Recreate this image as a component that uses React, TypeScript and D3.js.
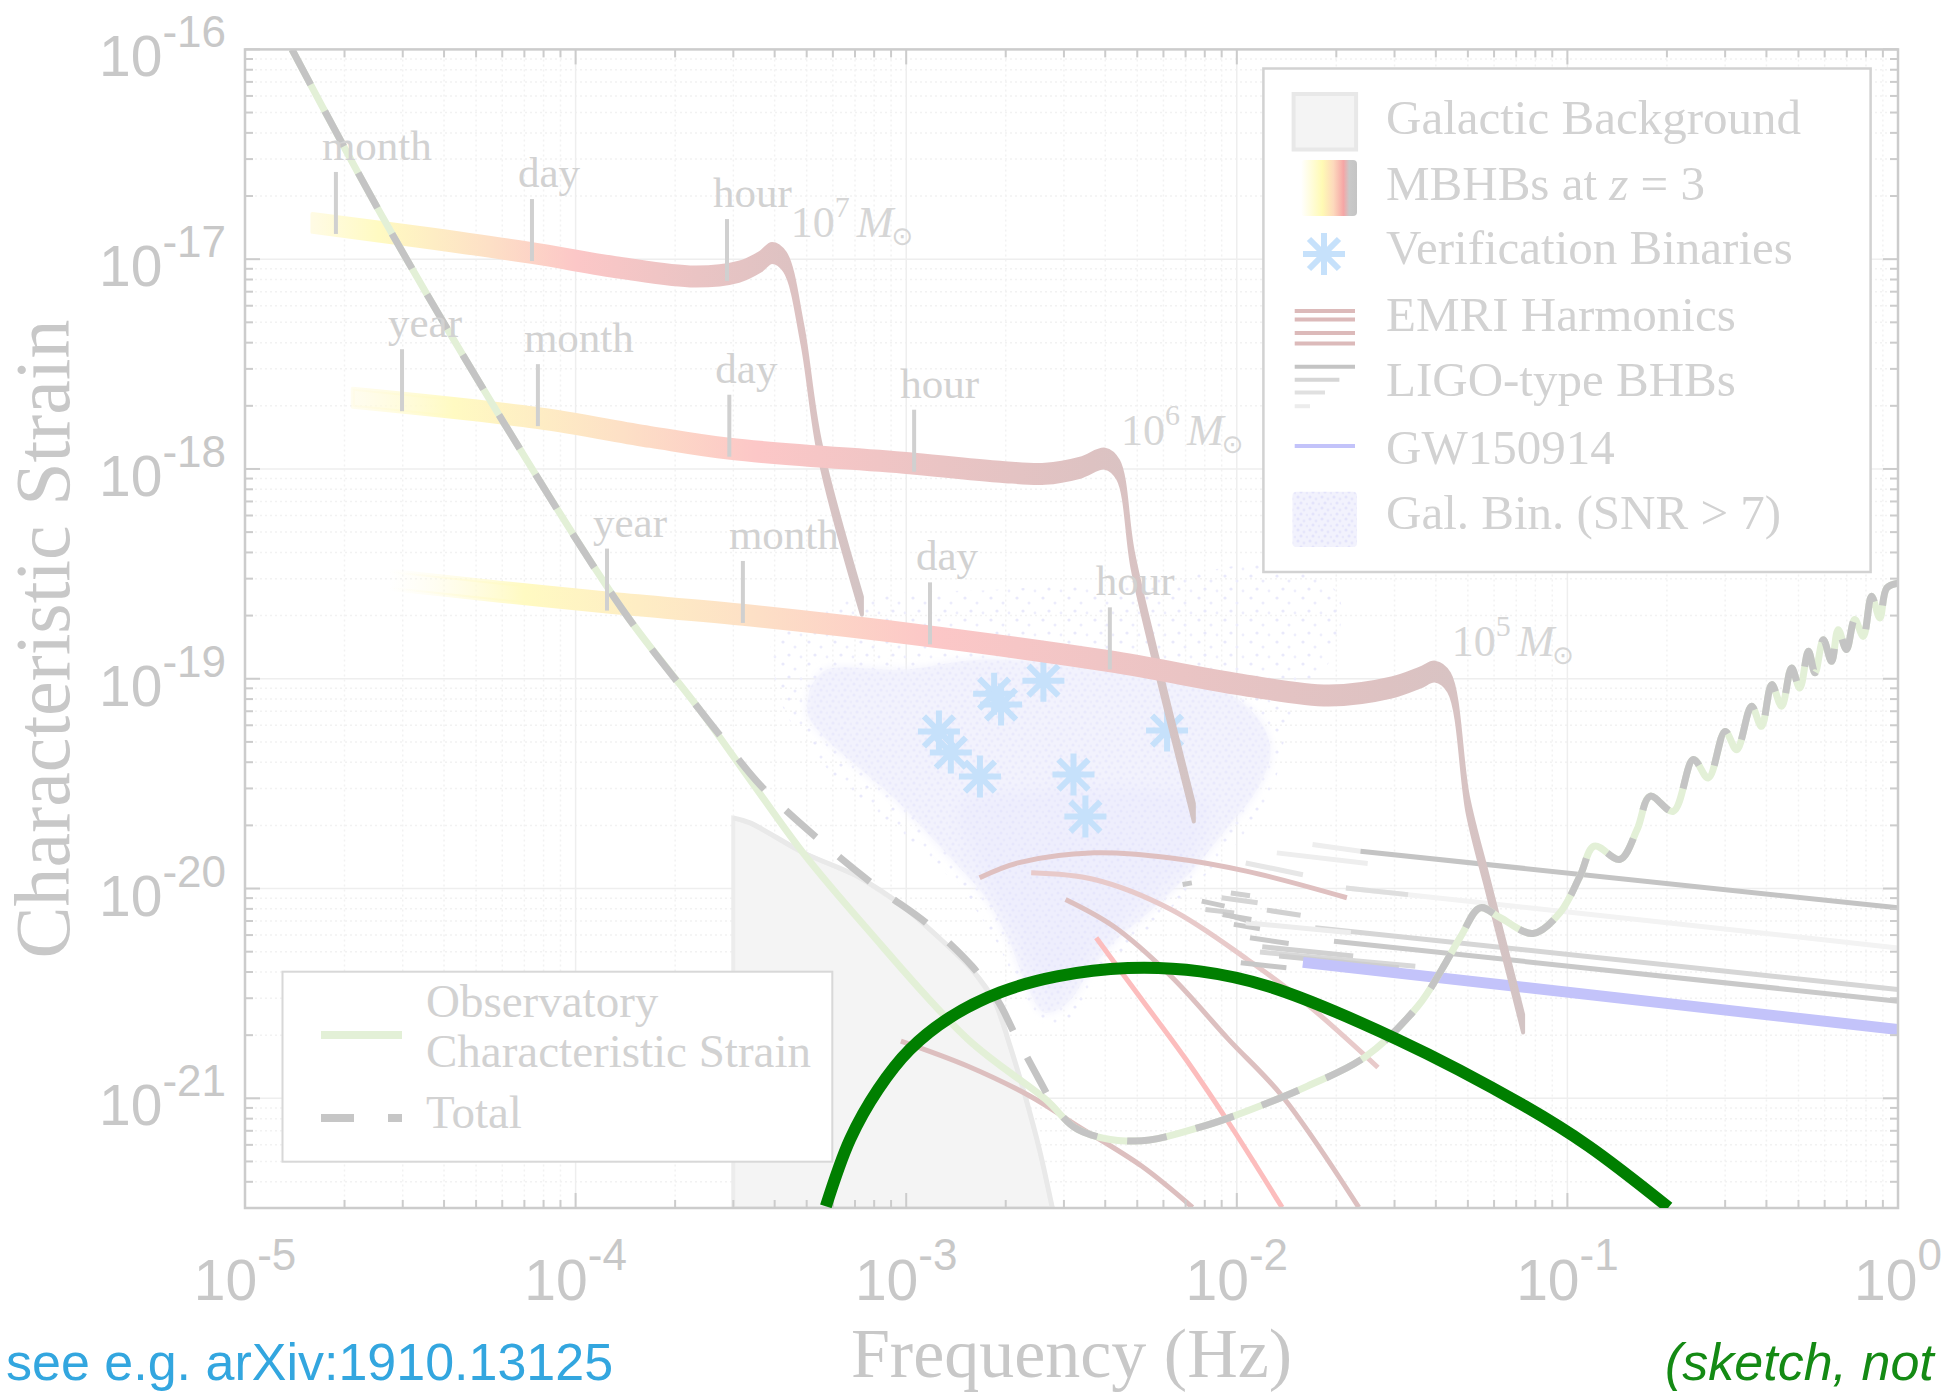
import React from "react";
import * as d3 from "d3";

// Every point is stored as [log10 frequency (Hz), log10 characteristic strain].
type Pt = [number, number];

const FREQ_DECADES = [-5, -4, -3, -2, -1, 0];
const STRAIN_DECADES = [-16, -17, -18, -19, -20, -21];
const F_DOMAIN: [number, number] = [1e-5, 1];
const H_DOMAIN: [number, number] = [3e-22, 1e-16];

// Observatory characteristic strain (sensitivity curve)
const observatorySensitivity: Pt[] = [
  [-4.858, -16.0], [-4.58, -16.81], [-4.217, -17.78], [-3.851, -18.686], [-3.624, -19.149],
  [-3.4725, -19.481], [-3.313, -19.828], [-3.125, -20.18], [-2.813, -20.719], [-2.578, -21.005],
  [-2.481, -21.148], [-2.308, -21.204], [-2.095, -21.13], [-1.903, -21.02], [-1.786, -20.942],
  [-1.612, -20.803], [-1.452, -20.56], [-1.38, -20.386], [-1.322, -20.227], [-1.264, -20.092],
  [-1.204, -20.138], [-1.104, -20.214], [-1.022, -20.114], [-0.962, -19.941], [-0.919, -19.798],
  [-0.841, -19.861], [-0.789, -19.718], [-0.75, -19.56], [-0.68, -19.632], [-0.619, -19.385],
  [-0.574, -19.473], [-0.523, -19.251], [-0.488, -19.338], [-0.443, -19.131], [-0.413, -19.227],
  [-0.382, -19.028], [-0.352, -19.131], [-0.322, -18.949], [-0.297, -19.044], [-0.271, -18.869],
  [-0.251, -18.972], [-0.226, -18.814], [-0.201, -18.917], [-0.181, -18.766], [-0.156, -18.861],
  [-0.131, -18.718], [-0.105, -18.798], [-0.08, -18.607], [-0.055, -18.71], [-0.034, -18.567],
  [0.0, -18.544],
];

// Where the total (instrument + galactic foreground) departs from the instrument curve
const totalForegroundBump: Pt[] = [
  [-3.57, -19.257], [-3.438, -19.513], [-3.241, -19.798], [-3.079, -20.005], [-2.94, -20.163],
  [-2.801, -20.37], [-2.72, -20.543], [-2.674, -20.686], [-2.598, -20.91], [-2.55, -21.04],
];

// Upper edge of the galactic confusion background
const galacticBackground: Pt[] = [
  [-3.523, -19.663], [-3.4725, -19.687], [-3.31, -19.83], [-3.149, -19.941], [-3.01, -20.084],
  [-2.895, -20.243], [-2.801, -20.386], [-2.731, -20.543], [-2.686, -20.75], [-2.64, -20.99],
  [-2.597, -21.244], [-2.558, -21.523],
];

// Massive black hole binary tracks at z = 3
const mbhb1e7: Pt[] = [
  [-4.796, -16.827], [-4.471, -16.894], [-4.135, -16.97], [-3.866, -17.041], [-3.64, -17.083],
  [-3.506, -17.06], [-3.442, -17.013], [-3.406, -16.97], [-3.367, -17.013], [-3.315, -17.351],
  [-3.261, -17.909], [-3.134, -18.652],
];
const mbhb1e6: Pt[] = [
  [-4.674, -17.661], [-4.121, -17.756], [-3.775, -17.847], [-3.533, -17.904], [-2.975, -17.975],
  [-2.716, -18.013], [-2.58, -18.023], [-2.474, -17.994], [-2.399, -17.951], [-2.359, -18.004],
  [-2.315, -18.433], [-2.245, -18.909], [-2.13, -19.638],
];
const mbhb1e5: Pt[] = [
  [-4.567, -18.528], [-4.229, -18.585], [-3.905, -18.637], [-3.472, -18.699], [-2.928, -18.798],
  [-2.384, -18.917], [-1.968, -19.033], [-1.721, -19.08], [-1.532, -19.042], [-1.446, -18.995],
  [-1.401, -18.966], [-1.358, -19.018], [-1.301, -19.604], [-1.243, -19.97], [-1.184, -20.333],
  [-1.134, -20.643],
];
const mbhbTracks = [mbhb1e7, mbhb1e6, mbhb1e5];
const mbhbMassExponents = ["7", "6", "5"];
const mbhbMassLabelAt: Pt[] = [[-3.349, -16.892], [-2.35, -17.885], [-1.35, -18.893]];

// Time-to-merger marks along each track: [label, log10 f]
const mbhbTimeMarks: [string, number][][] = [
  [["month", -4.725], ["day", -4.132], ["hour", -3.542]],
  [["year", -4.525], ["month", -4.114], ["day", -3.535], ["hour", -2.976]],
  [["year", -3.905], ["month", -3.494], ["day", -2.928], ["hour", -2.384]],
];

const verificationBinaries: Pt[] = [
  [-2.901, -19.251], [-2.865, -19.352], [-2.734, -19.071], [-2.713, -19.123], [-2.585, -19.009],
  [-2.777, -19.466], [-2.494, -19.457], [-2.458, -19.657], [-2.211, -19.247],
];

const emriHarmonics: Pt[][] = [
  [[-2.778, -19.949], [-2.662, -19.878], [-2.431, -19.83], [-2.199, -19.854], [-1.968, -19.918], [-1.667, -20.044]],
  [[-2.622, -19.925], [-2.431, -19.957], [-2.199, -20.1], [-1.968, -20.338], [-1.794, -20.543], [-1.573, -20.853]],
  [[-2.518, -20.052], [-2.373, -20.18], [-2.199, -20.418], [-2.025, -20.719], [-1.863, -20.989], [-1.631, -21.52]],
  [[-2.4253, -20.235], [-2.288, -20.528], [-2.154, -20.814], [-2.018, -21.132], [-1.863, -21.52]],
  [[-3.016, -20.727], [-2.813, -20.847], [-2.626, -20.989], [-2.481, -21.132], [-2.288, -21.323], [-2.134, -21.52]],
];
const emriColors = ["#dfc0c0", "#e8caca", "#ddc0c0", "#fcbdbd", "#ddbfbf"];

// LIGO-type binaries: start and end of each visible segment
const ligoSegments: [Pt, Pt][] = [
  [[-1.771, -19.79], [-1.626, -19.822]],
  [[-1.626, -19.822], [0, -20.092]],
  [[-1.67, -19.997], [0, -20.283]],
  [[-1.67, -19.997], [-1.482, -20.029]],
  [[-1.763, -20.187], [0, -20.481]],
  [[-1.706, -20.251], [0, -20.537]],
  [[-1.879, -19.83], [-1.604, -19.881]],
  [[-1.973, -19.878], [-1.8, -19.934]],
  [[-2.018, -20.021], [-1.96, -20.034]],
  [[-2.046, -20.044], [-1.937, -20.068]],
  [[-1.909, -20.103], [-1.807, -20.127]],
  [[-2.031, -20.124], [-1.96, -20.156]],
  [[-2.009, -20.171], [-1.93, -20.192]],
  [[-1.973, -20.163], [-1.655, -20.211]],
  [[-1.96, -20.235], [-1.843, -20.262]],
  [[-1.923, -20.278], [-1.648, -20.322]],
  [[-1.93, -20.303], [-1.46, -20.37]],
  [[-1.872, -20.322], [-1.51, -20.378]],
  [[-1.988, -20.354], [-1.85, -20.378]],
  [[-2.164, -19.981], [-2.136, -19.973]],
  [[-2.106, -20.06], [-2.037, -20.084]],
  [[-2.095, -20.1], [-2.008, -20.116]],
  [[-2.043, -20.124], [-1.956, -20.148]],
];
const ligoTone = [0.1, 0.95, 0.0, 0.4, 0.6, 0.85, 0.1, 0.25, 0.7, 0.6, 0.7, 0.9, 0.85, 0.12, 0.85, 0.7, 0.55, 0.75, 0.9, 0.85, 0.85, 0.7, 0.85];

const gw150914: Pt[] = [[-1.8, -20.352], [0, -20.672]];

// Resolvable galactic binaries (SNR > 7): sparse halo, dense cloud, core
const galBinHalo: Pt[] = [
  [-3.412, -18.813], [-3.17, -18.622], [-2.716, -18.575], [-2.263, -18.527], [-1.809, -18.456],
  [-1.688, -18.622], [-1.718, -18.908], [-1.839, -19.194], [-1.884, -19.48], [-1.99, -19.766],
  [-2.142, -20.004], [-2.293, -20.243], [-2.414, -20.433], [-2.489, -20.6], [-2.58, -20.648],
  [-2.656, -20.481], [-2.731, -20.243], [-2.837, -20.004], [-2.958, -19.814], [-3.14, -19.576],
  [-3.291, -19.338], [-3.382, -19.099],
];
const galBinCloud: Pt[] = [
  [-3.288, -19.036], [-3.241, -18.957], [-3.01, -18.957], [-2.778, -18.909], [-2.431, -18.941],
  [-2.084, -19.02], [-1.933, -19.195], [-1.898, -19.353], [-1.945, -19.544], [-2.025, -19.703],
  [-2.142, -19.925], [-2.257, -20.1], [-2.374, -20.259], [-2.455, -20.418], [-2.512, -20.545],
  [-2.581, -20.592], [-2.639, -20.449], [-2.686, -20.259], [-2.755, -20.052], [-2.824, -19.925],
  [-2.917, -19.767], [-3.032, -19.576], [-3.148, -19.417], [-3.241, -19.29], [-3.299, -19.163],
];
const galBinCore: Pt[] = [
  [-2.847, -19.671], [-2.824, -19.576], [-2.662, -19.544], [-2.431, -19.513], [-2.199, -19.544],
  [-2.084, -19.608], [-2.142, -19.862], [-2.257, -20.021], [-2.396, -20.227], [-2.477, -20.386],
  [-2.558, -20.497], [-2.617, -20.386], [-2.662, -20.227], [-2.731, -20.052], [-2.801, -19.83],
];

// Hand-drawn source sketch
const sketchCurve: Pt[] = [
  [-3.243, -21.515], [-3.17, -21.196], [-3.085, -20.957], [-2.989, -20.767], [-2.867, -20.614],
  [-2.716, -20.495], [-2.544, -20.419], [-2.329, -20.379], [-2.111, -20.395], [-1.903, -20.467],
  [-1.515, -20.719], [-1.129, -21.037], [-0.936, -21.228], [-0.694, -21.52],
];

const TRACK_STOPS: [number, string][] = [
  [0, "#fffbe4"], [0.12, "#fffac2"], [0.32, "#fde0c6"], [0.48, "#fcc7c7"],
  [0.7, "#eac4c4"], [0.88, "#ddc2c2"], [1, "#d3c4c4"],
];
const TRACK_START_OPACITY = [1, 0.6, 0];

const SERIF = "'Liberation Serif', 'Times New Roman', serif";
const SANS = "'Liberation Sans', Arial, Helvetica, sans-serif";
const AXIS_GREY = "#c8c8c8";
const NOTE_GREY = "#d2d2d2";

const LEFT = 245, RIGHT = 1898, TOP = 49.4, BOTTOM = 1208;

export default function App() {
  const x = d3.scaleLog().domain(F_DOMAIN).range([LEFT, RIGHT]);
  const y = d3.scaleLog().domain(H_DOMAIN).range([BOTTOM, TOP]);
  const fx = (lf: number) => x(Math.pow(10, lf));
  const fy = (lh: number) => y(Math.pow(10, lh));

  const smooth = d3.curveCatmullRom.alpha(0.5);
  const line = d3.line<Pt>().x((d) => fx(d[0])).y((d) => fy(d[1])).curve(smooth);
  const straight = d3.line<Pt>().x((d) => fx(d[0])).y((d) => fy(d[1]));
  const band = d3
    .area<Pt>()
    .x((d) => fx(d[0]))
    .y0((d) => fy(d[1]) + 9)
    .y1((d) => fy(d[1]) - 9)
    .curve(smooth);
  const polygon = (pts: Pt[]) => (line(pts.concat([pts[0]])) as string) + "Z";

  const logMin = Math.log10(H_DOMAIN[0]);
  const bgPath =
    straight(
      ([[galacticBackground[0][0], logMin]] as Pt[])
        .concat(galacticBackground)
        .concat([[galacticBackground[galacticBackground.length - 1][0], logMin]])
    ) + "Z";
  const bgEdge = line(galacticBackground) as string;

  const total: Pt[] = observatorySensitivity
    .filter((d) => d[0] <= -3.62)
    .concat(totalForegroundBump)
    .concat(observatorySensitivity.filter((d) => d[0] >= -2.49));

  // grid values
  const xMinor: number[] = [];
  for (let e = -5; e < 0; e++) for (let m = 2; m <= 9; m++) xMinor.push(m * Math.pow(10, e));
  const yMinor: number[] = [];
  for (let e = -22; e < -16; e++)
    for (let m = 2; m <= 9; m++) {
      const v = m * Math.pow(10, e);
      if (v >= H_DOMAIN[0] && v < H_DOMAIN[1]) yMinor.push(v);
    }
  const xMajor = FREQ_DECADES.map((e) => Math.pow(10, e));
  const yMajor = STRAIN_DECADES.map((e) => Math.pow(10, e));

  const asterisk = "M0,-21V21M-21,0H21M-15,-15L15,15M-15,15L15,-15";
  const ligoColor = d3.interpolateRgb("#f3f3f3", "#c2c2c2");

  const trackInterp = mbhbTracks.map((t) =>
    d3.scaleLinear().domain(t.map((d) => d[0])).range(t.map((d) => d[1]))
  );

  return (
    <svg
      width={1951}
      height={1392}
      viewBox="0 0 1951 1392"
      style={{ position: "absolute", left: 0, top: 0, display: "block", background: "#fff" }}
    >
      <defs>
        <clipPath id="plotArea">
          <rect x={LEFT} y={TOP} width={RIGHT - LEFT} height={BOTTOM - TOP} />
        </clipPath>
        <filter id="softEdge" x="-10%" y="-10%" width="120%" height="120%">
          <feGaussianBlur stdDeviation={5} />
        </filter>
        <pattern id="dotsSparse" width={26} height={22} patternUnits="userSpaceOnUse">
          <circle cx={3} cy={4} r={1.6} fill="#e9e9fb" />
          <circle cx={15} cy={9} r={1.5} fill="#ececfc" />
          <circle cx={9} cy={17} r={1.6} fill="#e9e9fb" />
          <circle cx={21} cy={19} r={1.4} fill="#eeeefc" />
        </pattern>
        <pattern id="dotsDense" width={12} height={11} patternUnits="userSpaceOnUse">
          <rect width={12} height={11} fill="#f2f2fd" />
          <circle cx={2} cy={2} r={1.5} fill="#e3e3fb" />
          <circle cx={8} cy={4} r={1.4} fill="#e6e6fb" />
          <circle cx={5} cy={8} r={1.5} fill="#e3e3fb" />
          <circle cx={11} cy={9} r={1.3} fill="#e8e8fb" />
        </pattern>
        {mbhbTracks.map((t, i) => (
          <linearGradient
            key={i}
            id={`mbhb${i}`}
            gradientUnits="userSpaceOnUse"
            x1={fx(t[0][0])}
            x2={fx(t[t.length - 1][0])}
            y1={0}
            y2={0}
          >
            {TRACK_STOPS.map(([o, c], j) => (
              <stop
                key={j}
                offset={o}
                stopColor={c}
                stopOpacity={j === 0 ? TRACK_START_OPACITY[i] : 1}
              />
            ))}
          </linearGradient>
        ))}
        <linearGradient id="mbhbKey" x1="0" x2="1" y1="0" y2="0">
          <stop offset="0" stopColor="#ffffff" />
          <stop offset="0.38" stopColor="#fffab4" />
          <stop offset="0.58" stopColor="#fdd9bc" />
          <stop offset="0.76" stopColor="#f5a6a6" />
          <stop offset="0.86" stopColor="#c9c9c9" />
          <stop offset="1" stopColor="#c4c4c4" />
        </linearGradient>
      </defs>

      {/* grid */}
      <g>
        {xMinor.map((v, i) => (
          <line key={`gx${i}`} x1={x(v)} x2={x(v)} y1={TOP} y2={BOTTOM} stroke="#f2f2f2" strokeWidth={1.5} strokeDasharray="2 3" />
        ))}
        {yMinor.map((v, i) => (
          <line key={`gy${i}`} x1={LEFT} x2={RIGHT} y1={y(v)} y2={y(v)} stroke="#f2f2f2" strokeWidth={1.5} strokeDasharray="2 3" />
        ))}
        {xMajor.map((v, i) => (
          <line key={`Gx${i}`} x1={x(v)} x2={x(v)} y1={TOP} y2={BOTTOM} stroke="#eeeeee" strokeWidth={1.5} />
        ))}
        {yMajor.map((v, i) => (
          <line key={`Gy${i}`} x1={LEFT} x2={RIGHT} y1={y(v)} y2={y(v)} stroke="#eeeeee" strokeWidth={1.5} />
        ))}
      </g>

      <g clipPath="url(#plotArea)">
        {/* galactic background */}
        <path d={bgPath} fill="#f4f4f4" stroke="#ececec" strokeWidth={4} />
        <path d={bgEdge} fill="none" stroke="#e9e9e9" strokeWidth={5} />

        {/* resolvable galactic binaries */}
        <path d={polygon(galBinHalo)} fill="url(#dotsSparse)" />
        <g filter="url(#softEdge)">
          <path d={polygon(galBinCloud)} fill="#f1f1fd" />
          <path d={polygon(galBinCore)} fill="#eaeafd" />
        </g>
        <path d={polygon(galBinCloud)} fill="url(#dotsDense)" opacity={0.55} />

        {/* verification binaries */}
        {verificationBinaries.map((d, i) => (
          <path
            key={`vb${i}`}
            d={asterisk}
            transform={`translate(${fx(d[0])},${fy(d[1])})`}
            stroke="#c6e1fb"
            strokeWidth={6}
            fill="none"
          />
        ))}

        {/* EMRI harmonics */}
        {emriHarmonics.map((h, i) => (
          <path key={`em${i}`} d={line(h) as string} fill="none" stroke={emriColors[i]} strokeWidth={5} />
        ))}

        {/* LIGO-type binaries */}
        {ligoSegments.map((s, i) => (
          <path key={`lg${i}`} d={straight(s) as string} stroke={ligoColor(ligoTone[i])} strokeWidth={5} fill="none" />
        ))}

        {/* GW150914 */}
        <path d={straight(gw150914) as string} stroke="#c3c3fa" strokeWidth={11} fill="none" />

        {/* MBHB tracks */}
        {mbhbTracks.map((t, i) => (
          <path
            key={`tr${i}`}
            d={band(t) as string}
            fill={`url(#mbhb${i})`}
            stroke={`url(#mbhb${i})`}
            strokeWidth={4}
            strokeLinejoin="round"
          />
        ))}

        {/* sensitivity and total */}
        <path d={line(observatorySensitivity) as string} fill="none" stroke="#e3f0d7" strokeWidth={7} />
        <path d={line(total) as string} fill="none" stroke="#c4c4c4" strokeWidth={7} strokeDasharray="40 30" />
      </g>

      {/* time-to-merger marks */}
      {mbhbTimeMarks.map((marks, i) =>
        marks.map(([label, lf], j) => {
          const cx = fx(lf);
          const cy = fy(trackInterp[i](lf));
          return (
            <g key={`tm${i}-${j}`}>
              <line x1={cx} x2={cx} y1={cy + 8} y2={cy - 54} stroke="#d0d0d0" strokeWidth={4} />
              <text x={cx - 14} y={cy - 66} fontFamily={SERIF} fontSize={43} fill={NOTE_GREY}>
                {label}
              </text>
            </g>
          );
        })
      )}

      {/* mass labels */}
      {mbhbMassLabelAt.map((d, i) => (
        <text key={`ml${i}`} x={fx(d[0])} y={fy(d[1])} fontFamily={SERIF} fontSize={44} fill="#d6d6d6">
          10
          <tspan dy={-20} fontSize={30}>{mbhbMassExponents[i]}</tspan>
          <tspan dy={20} dx={7} fontStyle="italic">M</tspan>
          <tspan dy={8} dx={-2} fontSize={26} fontFamily="'DejaVu Sans', sans-serif">⊙</tspan>
        </text>
      ))}

      {/* frame and ticks */}
      <g stroke="#cccccc" strokeWidth={2}>
        {xMajor.map((v, i) => (
          <g key={`tx${i}`}>
            <line x1={x(v)} x2={x(v)} y1={BOTTOM} y2={BOTTOM - 15} />
            <line x1={x(v)} x2={x(v)} y1={TOP} y2={TOP + 15} />
          </g>
        ))}
        {xMinor.map((v, i) => (
          <g key={`tmx${i}`}>
            <line x1={x(v)} x2={x(v)} y1={BOTTOM} y2={BOTTOM - 8} />
            <line x1={x(v)} x2={x(v)} y1={TOP} y2={TOP + 8} />
          </g>
        ))}
        {yMajor.map((v, i) => (
          <g key={`ty${i}`}>
            <line x1={LEFT} x2={LEFT + 15} y1={y(v)} y2={y(v)} />
            <line x1={RIGHT} x2={RIGHT - 15} y1={y(v)} y2={y(v)} />
          </g>
        ))}
        {yMinor.map((v, i) => (
          <g key={`tmy${i}`}>
            <line x1={LEFT} x2={LEFT + 8} y1={y(v)} y2={y(v)} />
            <line x1={RIGHT} x2={RIGHT - 8} y1={y(v)} y2={y(v)} />
          </g>
        ))}
        <rect x={LEFT} y={TOP} width={RIGHT - LEFT} height={BOTTOM - TOP} fill="none" strokeWidth={2.5} />
      </g>

      {/* tick labels */}
      {STRAIN_DECADES.map((e) => (
        <text key={`yl${e}`} x={226} y={fy(e) + 27} textAnchor="end" fontFamily={SANS} fontSize={57} fill={AXIS_GREY}>
          10<tspan dy={-29} fontSize={44}>{String(e)}</tspan>
        </text>
      ))}
      {FREQ_DECADES.map((e) => (
        <text key={`xl${e}`} x={fx(e)} y={1300} textAnchor="middle" fontFamily={SANS} fontSize={57} fill={AXIS_GREY}>
          10<tspan dy={-30} fontSize={44}>{String(e)}</tspan>
        </text>
      ))}

      {/* axis titles */}
      <text transform="translate(69,639) rotate(-90)" textAnchor="middle" fontFamily={SERIF} fontSize={78} fill={AXIS_GREY}>
        Characteristic Strain
      </text>
      <text x={(LEFT + RIGHT) / 2} y={1377} textAnchor="middle" fontFamily={SERIF} fontSize={70} fill={AXIS_GREY}>
        Frequency (Hz)
      </text>

      {/* lower-left key */}
      <g>
        <rect x={282.5} y={971.7} width={549.8} height={190} fill="#fff" stroke="#d8d8d8" strokeWidth={2} />
        <line x1={321} x2={402} y1={1035} y2={1035} stroke="#e3f0d7" strokeWidth={8} />
        <line x1={321} x2={402} y1={1118} y2={1118} stroke="#c6c6c6" strokeWidth={8} strokeDasharray="33 34" />
        <text fontFamily={SERIF} fontSize={47} fill={NOTE_GREY}>
          <tspan x={426} y={1016.7}>Observatory</tspan>
          <tspan x={426} y={1066.7}>Characteristic Strain</tspan>
          <tspan x={426} y={1128}>Total</tspan>
        </text>
      </g>

      {/* upper-right key */}
      <g>
        <rect x={1263.4} y={68.5} width={607.2} height={503.5} fill="#fff" stroke="#d2d2d2" strokeWidth={2.5} />
        <rect x={1293.6} y={94} width={62.5} height={55.5} fill="#f4f4f4" stroke="#e8e8e8" strokeWidth={4} />
        <rect x={1301} y={160} width={56} height={56} rx={4} fill="url(#mbhbKey)" />
        <path d={asterisk} transform="translate(1324,254)" stroke="#c6e1fb" strokeWidth={6} fill="none" />
        {[311, 319.5, 333, 343.6].map((yy, i) => (
          <line key={`ek${i}`} x1={1294.7} x2={1355} y1={yy} y2={yy} stroke="#dcbaba" strokeWidth={4} />
        ))}
        {[
          [366.8, 1355, "#c4c4c4"],
          [379.7, 1339.4, "#d6d6d6"],
          [392.5, 1325, "#e0e0e0"],
          [406.2, 1310, "#ececec"],
        ].map(([yy, x2, c], i) => (
          <line key={`lk${i}`} x1={1294.7} x2={x2 as number} y1={yy as number} y2={yy as number} stroke={c as string} strokeWidth={4} />
        ))}
        <line x1={1294.7} x2={1355} y1={446} y2={446} stroke="#c3c3fa" strokeWidth={4} />
        <rect x={1292.5} y={491.7} width={64.5} height={55.3} rx={4} fill="url(#dotsDense)" />
        <text fontFamily={SERIF} fontSize={49} fill={NOTE_GREY}>
          <tspan x={1386} y={133.6}>Galactic Background</tspan>
          <tspan x={1386} y={200}>
            MBHBs at <tspan fontStyle="italic">z</tspan> = 3
          </tspan>
          <tspan x={1386} y={263.5}>Verification Binaries</tspan>
          <tspan x={1386} y={330.7}>EMRI Harmonics</tspan>
          <tspan x={1386} y={396}>LIGO-type BHBs</tspan>
          <tspan x={1386} y={463.5}>GW150914</tspan>
          <tspan x={1386} y={529}>Gal. Bin. (SNR &gt; 7)</tspan>
        </text>
      </g>

      {/* sketched source curve */}
      <g clipPath="url(#plotArea)">
        <path d={line(sketchCurve) as string} fill="none" stroke="#007f00" strokeWidth={12} />
      </g>

      {/* notes */}
      <text x={6} y={1380} fontFamily={SANS} fontSize={52} fill="#33a6df">
        see e.g. arXiv:1910.13125
      </text>
      <text x={1665} y={1380} fontFamily={SANS} fontSize={52} fontStyle="italic" fill="#148a14">
        (sketch, not
      </text>
    </svg>
  );
}
